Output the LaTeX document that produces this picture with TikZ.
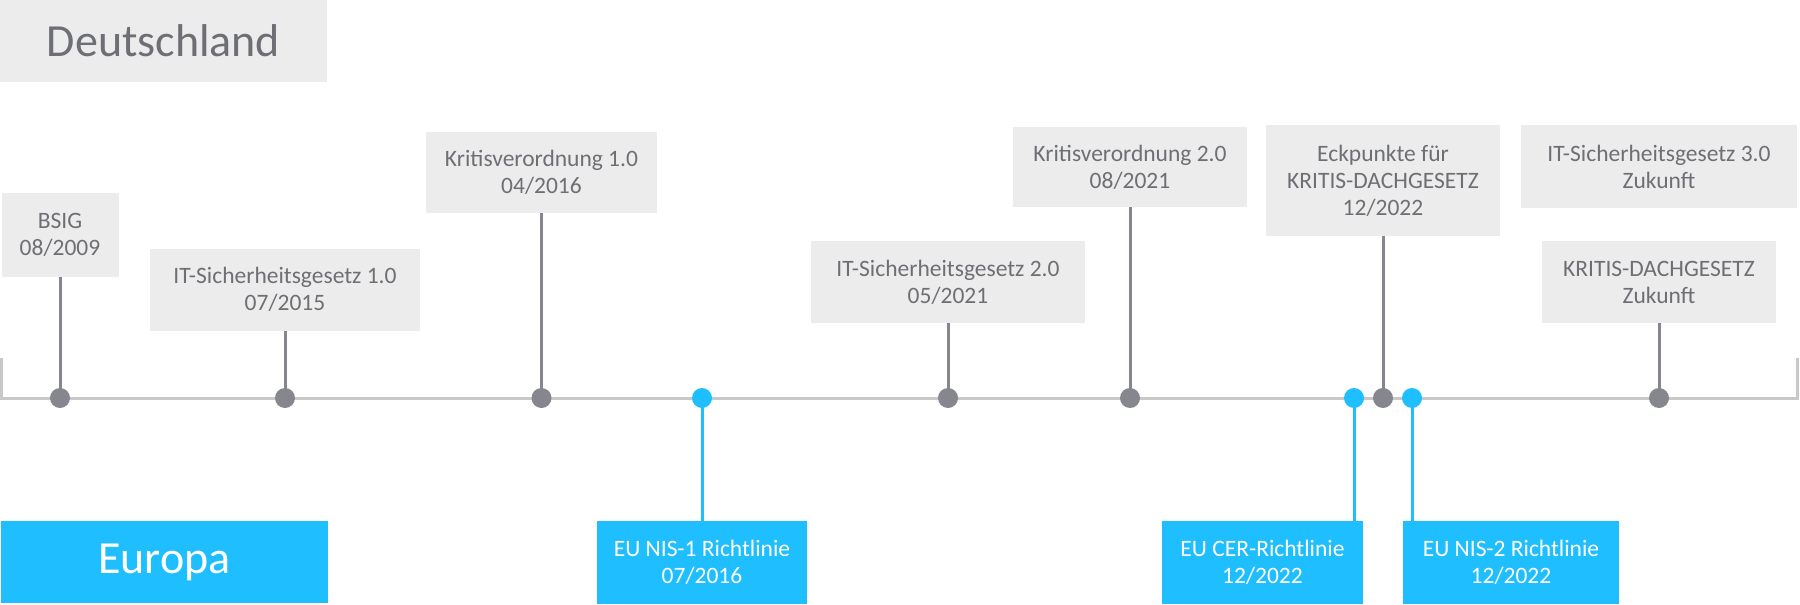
\documentclass[tikz,border=0pt]{standalone}
\usepackage{fontspec}
\setmainfont{Carlito}
\usepackage{tikz}
\usetikzlibrary{positioning}
\definecolor{boxgray}{HTML}{ECECEC}
\definecolor{dotgray}{HTML}{86878E}
\definecolor{txtgray}{HTML}{6E6F74}
\definecolor{linegray}{HTML}{C8C8C8}
\definecolor{eublue}{HTML}{1EBEFF}

\begin{document}
\begin{tikzpicture}[x=1pt,y=-1pt,
    debox/.style={fill=boxgray, text=txtgray, align=center, inner sep=0pt,
        font=\fontsize{23.5}{27}\selectfont, minimum width=#1, minimum height=82},
    eubox/.style={fill=eublue, text=white, align=center, inner sep=0pt,
        font=\fontsize{23.5}{27}\selectfont, minimum width=#1, minimum height=83},
    region/.style={inner sep=0pt, minimum width=327, minimum height=82,
        font=\fontsize{46}{54}\selectfont},
    dedot/.style={circle, fill=dotgray, minimum size=20, inner sep=0pt},
    eudot/.style={circle, fill=eublue, minimum size=20, inner sep=0pt},
    stem/.style={dotgray, line width=3},
    eustem/.style={eublue, line width=3}]
    \useasboundingbox (0,0) rectangle (1800,605);
    % regions
    \node[region, fill=boxgray, text=txtgray] (de) at (163.5,40.5) {Deutschland};
    \node[region, fill=eublue, text=white] (eu) at (164.5,562) {Europa};
    % time axis
    \coordinate (tla) at (1.5,358);
    \coordinate (tlb) at (1.5,398);
    \coordinate (tlc) at (1797.5,398);
    \coordinate (tld) at (1797.5,358);
    \draw[linegray, line width=3] (tla) -- (tlb) -- (tlc) -- (tld);
    % Deutschland
    \node[debox=117, minimum height=84] (bsig) at (60,235) {BSIG\\08/2009};
    \node[debox=270] (its1) at (285,289.5) {IT-Sicherheitsgesetz 1.0\\07/2015};
    \node[debox=231, minimum height=81] (kv1) at (541.5,172.5) {Kritisverordnung 1.0\\04/2016};
    \node[debox=274] (its2) at (948,282) {IT-Sicherheitsgesetz 2.0\\05/2021};
    \node[debox=234, minimum height=80] (kv2) at (1130,167) {Kritisverordnung 2.0\\08/2021};
    \node[debox=234, minimum height=111] (eck) at (1383,180.5) {Eckpunkte für\\KRITIS-DACHGESETZ\\12/2022};
    \node[debox=276, minimum height=83] (its3) at (1659,166.5) {IT-Sicherheitsgesetz 3.0\\Zukunft};
    \node[debox=234] (kdg) at (1659,282) {KRITIS-DACHGESETZ\\Zukunft};
    % Europa
    \node[eubox=210] (nis1) at (702,562.5) {EU NIS-1 Richtlinie\\07/2016};
    \node[eubox=201] (cer) at (1262.5,562.5) {EU CER-Richtlinie\\12/2022};
    \node[eubox=216] (nis2) at (1511,562.5) {EU NIS-2 Richtlinie\\12/2022};
    % points on the axis
    \node[dedot] (bsigdot) at (60,398) {};
    \node[dedot] (its1dot) at (285,398) {};
    \node[dedot] (kv1dot) at (541.5,398) {};
    \node[eudot] (nis1dot) at (702,398) {};
    \node[dedot] (its2dot) at (948,398) {};
    \node[dedot] (kv2dot) at (1130,398) {};
    \node[eudot] (cerdot) at (1354,398) {};
    \node[dedot] (eckdot) at (1383,398) {};
    \node[eudot] (nis2dot) at (1412,398) {};
    \node[dedot] (kdgdot) at (1659,398) {};
    % stems
    \draw[stem] (bsig.south) -- (bsigdot.center);
    \draw[stem] (its1.south) -- (its1dot.center);
    \draw[stem] (kv1.south) -- (kv1dot.center);
    \draw[stem] (its2.south) -- (its2dot.center);
    \draw[stem] (kv2.south) -- (kv2dot.center);
    \draw[stem] (eck.south) -- (eckdot.center);
    \draw[stem] (kdg.south) -- (kdgdot.center);
    \draw[eustem] (nis1dot.center) -- (nis1.north);
    \draw[eustem] (cerdot.center) -- (cerdot |- cer.north);
    \draw[eustem] (nis2dot.center) -- (nis2dot |- nis2.north);
\end{tikzpicture}
\end{document}
